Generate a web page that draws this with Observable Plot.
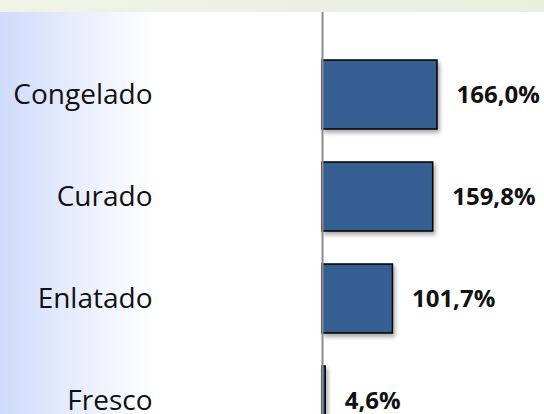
<!DOCTYPE html>
<html>
<head>
<meta charset="utf-8">
<script src="https://cdn.jsdelivr.net/npm/d3@7"></script>
<script src="https://cdn.jsdelivr.net/npm/@observablehq/plot@0.6"></script>
<style>
  html, body { margin: 0; padding: 0; background: #ffffff; }
  #chart {
    position: relative; width: 544px; height: 414px; overflow: hidden;
    background:
      linear-gradient(to right, #eff4e6, #e9efdd) top left / 100% 12px no-repeat,
      linear-gradient(to right, #cfdbfc 0px, #e6ecfd 70px, #ffffff 155px) left 12px / 100% 402px no-repeat,
      #ffffff;
  }
  #chart svg { display: block; background: transparent; font-family: "Open Sans", sans-serif; }
  #chart g[aria-label="bar"] rect { filter: drop-shadow(2px 3px 2px rgba(0,0,0,0.35)); }
</style>
</head>
<body>
<div id="chart"></div>
<script>
const categories = ["Congelado", "Curado", "Enlatado", "Fresco"];
const values = [166.0, 159.8, 101.7, 4.6];
const valueLabels = ["166,0%", "159,8%", "101,7%", "4,6%"];

const data = categories.map((c, i) => ({cat: c, value: values[i], label: valueLabels[i]}));

const chart = Plot.plot({
  width: 544,
  height: 414,
  marginTop: 12,
  marginBottom: 0,
  marginLeft: 154,
  marginRight: 0,
  style: {background: "transparent", fontFamily: "Open Sans, sans-serif", overflow: "hidden"},
  x: {domain: [0, 200], range: [322, 322 + 200 * (115 / 166)], axis: null},
  y: {type: "band", domain: categories, range: [25.7, 470.2], padding: 0.324, axis: null},
  marks: [
    Plot.barX(data, {x: "value", y: "cat", fill: "#365f91", stroke: "#000000", strokeWidth: 1.5}),
    Plot.ruleX([0], {stroke: "#8c8c8c", strokeWidth: 2}),
    Plot.axisY({anchor: "left", tickSize: 0, tickPadding: 2, fontSize: 28, color: "#111111", label: null}),
    Plot.text(data, {x: "value", y: "cat", text: "label", dx: 19, textAnchor: "start",
      fontWeight: "bold", fontSize: 24, fill: "#111111"})
  ]
});
document.getElementById("chart").appendChild(chart);
</script>
</body>
</html>
